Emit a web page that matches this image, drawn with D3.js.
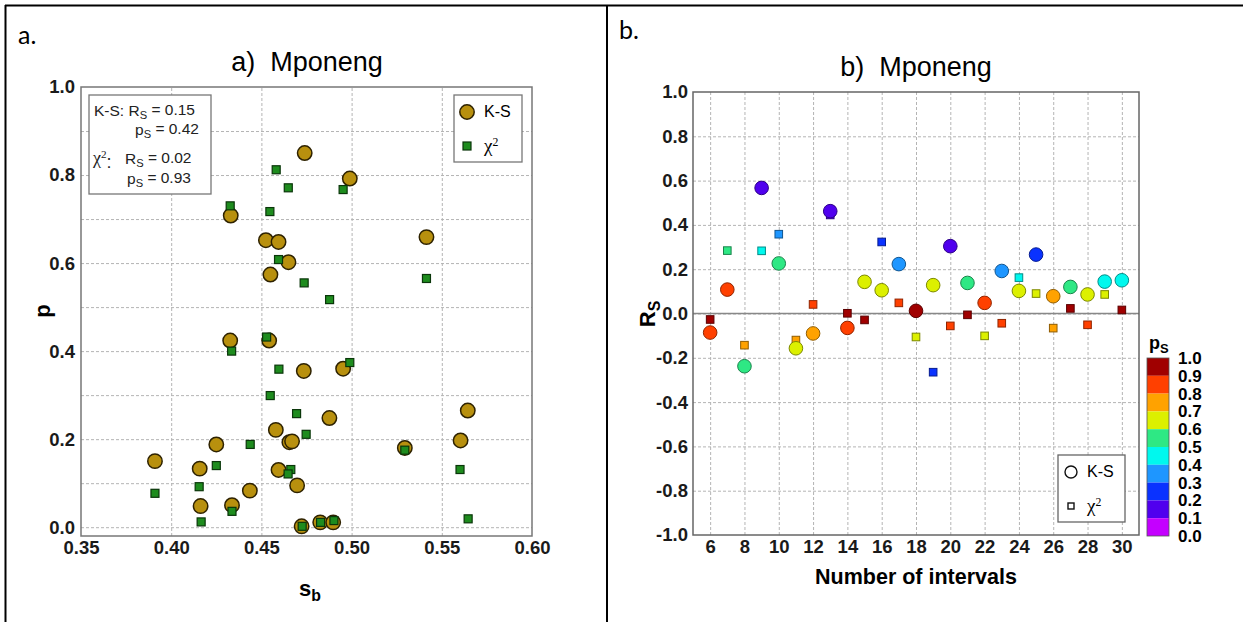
<!DOCTYPE html>
<html>
<head>
<meta charset="utf-8">
<script src="https://cdn.jsdelivr.net/npm/d3@7"></script>
<style>
body { margin: 0; background: #fff; }
svg { display: block; font-family: "Liberation Sans", Arial, sans-serif; }
.grid line { stroke: #b4b4b4; stroke-dasharray: 3,2; stroke-width: 1; }
.grid path { display: none; }
.ax path, .ax line { display: none; }
</style>
</head>
<body>
<svg id="chart" width="1243" height="622"></svg>
<script>
// ---- panel a: p versus s_b ----
var ksSb = [0.474, 0.433, 0.4525, 0.4595, 0.465, 0.455, 0.499, 0.5415, 0.4327, 0.4543,
  0.4735, 0.4953, 0.4877, 0.458, 0.4655, 0.467, 0.425, 0.391, 0.4158, 0.4595,
  0.4698, 0.4436, 0.4163, 0.4337, 0.4723, 0.4826, 0.4898, 0.5644, 0.5604, 0.5295]
var ksP = [0.850, 0.708, 0.652, 0.648, 0.602, 0.574, 0.792, 0.659, 0.424, 0.424,
  0.355, 0.360, 0.248, 0.221, 0.193, 0.195, 0.188, 0.150, 0.133, 0.130,
  0.095, 0.083, 0.048, 0.050, 0.002, 0.011, 0.011, 0.265, 0.197, 0.180]

var chiSb = [0.4582, 0.4649, 0.4953, 0.4327, 0.4547, 0.4595, 0.4737, 0.4878, 0.5415, 0.4529,
  0.4335, 0.4597, 0.4549, 0.4695, 0.4748, 0.4438, 0.425, 0.4663, 0.4648, 0.4155,
  0.391, 0.4337, 0.4166, 0.4726, 0.4828, 0.4902, 0.499, 0.5295, 0.5601, 0.5646]
var chiP = [0.812, 0.771, 0.767, 0.730, 0.717, 0.608, 0.555, 0.517, 0.565, 0.432,
  0.400, 0.359, 0.299, 0.258, 0.211, 0.188, 0.140, 0.131, 0.121, 0.092,
  0.077, 0.036, 0.012, 0.002, 0.011, 0.015, 0.374, 0.175, 0.131, 0.019]

var aXTicks = [0.35, 0.40, 0.45, 0.50, 0.55, 0.60]
var aYTicks = [0.0, 0.2, 0.4, 0.6, 0.8, 1.0]
var aYGrid = [0.0, 0.1, 0.2, 0.3, 0.4, 0.5, 0.6, 0.7, 0.8, 0.9]

// ---- panel b: R_S versus number of intervals ----
var intervals = [6, 7, 8, 9, 10, 11, 12, 13, 14, 15, 16, 17, 18, 19, 20, 21, 22, 23, 24, 25, 26, 27, 28, 29, 30]
var ksRs = [-0.086, 0.108, -0.238, 0.567, 0.226, -0.157, -0.090, 0.462, -0.065, 0.143,
  0.105, 0.223, 0.012, 0.128, 0.304, 0.138, 0.048, 0.192, 0.102, 0.266,
  0.078, 0.120, 0.086, 0.144, 0.150]
var ksPs = [0.85, 0.82, 0.55, 0.15, 0.52, 0.65, 0.75, 0.12, 0.83, 0.62,
  0.66, 0.35, 0.96, 0.64, 0.19, 0.55, 0.86, 0.38, 0.65, 0.25,
  0.73, 0.57, 0.69, 0.45, 0.44]
var chiRs = [-0.027, 0.284, -0.143, 0.283, 0.358, -0.120, 0.041, 0.445, 0.001, -0.029,
  0.323, 0.048, -0.106, -0.265, -0.056, -0.006, -0.101, -0.044, 0.162, 0.090,
  -0.066, 0.023, -0.051, 0.086, 0.016]
var chiPs = [0.92, 0.54, 0.72, 0.43, 0.33, 0.74, 0.88, 0.15, 0.99, 0.93,
  0.28, 0.87, 0.68, 0.27, 0.84, 0.98, 0.69, 0.85, 0.46, 0.67,
  0.76, 0.92, 0.82, 0.68, 0.95]

var bXTicks = [6, 8, 10, 12, 14, 16, 18, 20, 22, 24, 26, 28, 30]
var bYTicks = [-1.0, -0.8, -0.6, -0.4, -0.2, 0.0, 0.2, 0.4, 0.6, 0.8, 1.0]
var psLabels = ["1.0", "0.9", "0.8", "0.7", "0.6", "0.5", "0.4", "0.3", "0.2", "0.1", "0.0"]
var psBreaks = [0.1, 0.2, 0.3, 0.4, 0.5, 0.6, 0.7, 0.8, 0.9]
var psColors = ["#c400ff", "#5000ee", "#0a32ff", "#1e96ff", "#00f8ee",
  "#2ee884", "#dcf000", "#ffa200", "#ff4000", "#a00000"]

var svg = d3.select("#chart")
var fmt1 = function(d) { return d3.format(".1f")(d).replace("\u2212", "-") }

// page frame (table cells)
svg.append("line").attr("x1", 5).attr("x2", 1243).attr("y1", 5.5).attr("y2", 5.5)
  .attr("stroke", "#000").attr("stroke-width", 2)
svg.append("line").attr("x1", 5.5).attr("x2", 5.5).attr("y1", 5).attr("y2", 622)
  .attr("stroke", "#000").attr("stroke-width", 2)
svg.append("line").attr("x1", 607).attr("x2", 607).attr("y1", 5).attr("y2", 622)
  .attr("stroke", "#000").attr("stroke-width", 2)

svg.append("text").attr("x", 18).attr("y", 44).text("a.")
  .style("font-family", "Lato, 'Open Sans', sans-serif").style("font-size", "25px")
svg.append("text").attr("x", 619).attr("y", 39).text("b.")
  .style("font-family", "Lato, 'Open Sans', sans-serif").style("font-size", "25px")

// helper: text with a subscript / superscript piece
function subText(sel, parts) {
  parts.forEach(function(p) {
    var t = sel.append("tspan").text(p.t)
    if (p.sub) t.attr("font-size", "0.72em").attr("dy", "0.3em")
    if (p.sup) t.attr("font-size", "0.62em").attr("dy", "-0.55em")
    if (p.serif) t.style("font-family", "'Liberation Serif', 'DejaVu Serif', serif")
    if (p.back) t.attr("dy", p.back)
  })
  return sel
}

function styleTicks(g) {
  g.selectAll("text")
    .style("font-family", "'Liberation Sans', Arial, sans-serif")
    .style("font-weight", "bold")
    .style("font-size", "18.5px")
    .style("fill", "#1a1a1a")
}

// ================= panel a =================
var ax = d3.scaleLinear().domain([0.35, 0.60]).range([81, 532])
var ay = d3.scaleLinear().domain([-0.02, 1.0]).range([536, 87])
var ga = svg.append("g")

ga.append("g").attr("class", "grid")
  .attr("transform", "translate(0,536)")
  .call(d3.axisBottom(ax).tickValues(aXTicks.slice(1, 5)).tickSize(-449).tickFormat(""))
ga.append("g").attr("class", "grid")
  .attr("transform", "translate(81,0)")
  .call(d3.axisLeft(ay).tickValues(aYGrid).tickSize(-451).tickFormat(""))

ga.append("rect").attr("x", 81).attr("y", 87).attr("width", 451).attr("height", 449)
  .attr("fill", "none").attr("stroke", "#777").attr("stroke-width", 1.5)

ga.append("g").attr("class", "ax").attr("transform", "translate(81,0)")
  .call(d3.axisLeft(ay).tickValues(aYTicks).tickSize(0).tickPadding(6).tickFormat(fmt1))
  .call(styleTicks)
ga.append("g").attr("class", "ax").attr("transform", "translate(0,536)")
  .call(d3.axisBottom(ax).tickValues(aXTicks).tickSize(0).tickPadding(5).tickFormat(d3.format(".2f")))
  .call(styleTicks)

ga.selectAll(".ks").data(ksSb).enter().append("circle")
  .attr("class", "ks")
  .attr("cx", function(d) { return ax(d) })
  .attr("cy", function(d, i) { return ay(ksP[i]) })
  .attr("r", 7.2)
  .attr("fill", "#b8900e").attr("stroke", "#2e2200").attr("stroke-width", 1.5)

ga.selectAll(".chi").data(chiSb).enter().append("rect")
  .attr("class", "chi")
  .attr("x", function(d) { return ax(d) - 4 })
  .attr("y", function(d, i) { return ay(chiP[i]) - 4 })
  .attr("width", 8).attr("height", 8)
  .attr("fill", "#1e8c1e").attr("stroke", "#0a360a").attr("stroke-width", 1.2)

ga.append("text").attr("x", 307).attr("y", 71).attr("text-anchor", "middle")
  .style("font-size", "27px").style("white-space", "pre").text("a)  Mponeng")
ga.append("text").attr("transform", "translate(50,311) rotate(-90)").attr("text-anchor", "middle")
  .style("font-size", "22px").style("font-weight", "bold").text("p")
subText(ga.append("text").attr("x", 299).attr("y", 596)
  .style("font-size", "22px").style("font-weight", "bold"), [{t: "s"}, {t: "b", sub: true}])

// statistics box
ga.append("rect").attr("x", 89).attr("y", 95).attr("width", 122).attr("height", 99)
  .attr("fill", "#fff").attr("stroke", "#777").attr("stroke-width", 1.3)
var stat = ga.append("g").style("font-size", "15.5px").attr("fill", "#222")
subText(stat.append("text").attr("x", 94).attr("y", 116),
  [{t: "K-S: R"}, {t: "S", sub: true}, {t: " = 0.15", back: "-0.3em"}])
subText(stat.append("text").attr("x", 135).attr("y", 135),
  [{t: "p"}, {t: "S", sub: true}, {t: " = 0.42", back: "-0.3em"}])
subText(stat.append("text").attr("x", 93).attr("y", 164).style("font-size", "18px"),
  [{t: "\u03c7", serif: true}, {t: "2", sup: true, serif: true}, {t: ":", back: "0.55em"}])
subText(stat.append("text").attr("x", 125).attr("y", 164),
  [{t: "R"}, {t: "S", sub: true}, {t: " = 0.02", back: "-0.3em"}])
subText(stat.append("text").attr("x", 127).attr("y", 184),
  [{t: "p"}, {t: "S", sub: true}, {t: " = 0.93", back: "-0.3em"}])

// legend a
ga.append("rect").attr("x", 454).attr("y", 95).attr("width", 68).attr("height", 67)
  .attr("fill", "#fff").attr("stroke", "#777").attr("stroke-width", 1.3)
ga.append("circle").attr("cx", 467).attr("cy", 112).attr("r", 7.2)
  .attr("fill", "#b8900e").attr("stroke", "#2e2200").attr("stroke-width", 1.5)
ga.append("rect").attr("x", 463).attr("y", 142).attr("width", 8).attr("height", 8)
  .attr("fill", "#1e8c1e").attr("stroke", "#0a360a").attr("stroke-width", 1.2)
ga.append("text").attr("x", 484).attr("y", 117).style("font-size", "16px").text("K-S")
subText(ga.append("text").attr("x", 484).attr("y", 152).style("font-size", "19px"),
  [{t: "\u03c7", serif: true}, {t: "2", sup: true, serif: true}])

// ================= panel b =================
var bx = d3.scaleLinear().domain([5, 31]).range([693, 1139])
var by = d3.scaleLinear().domain([-1, 1]).range([535, 92])
var color = d3.scaleThreshold().domain(psBreaks).range(psColors)
var gb = svg.append("g")

gb.append("g").attr("class", "grid")
  .attr("transform", "translate(0,535)")
  .call(d3.axisBottom(bx).tickValues(bXTicks).tickSize(-443).tickFormat(""))
gb.append("g").attr("class", "grid")
  .attr("transform", "translate(693,0)")
  .call(d3.axisLeft(by).tickValues(bYTicks.slice(1, 10)).tickSize(-446).tickFormat(""))

gb.append("line").attr("x1", 693).attr("x2", 1139).attr("y1", by(0)).attr("y2", by(0))
  .attr("stroke", "#888").attr("stroke-width", 1.5)
gb.append("rect").attr("x", 693).attr("y", 92).attr("width", 446).attr("height", 443)
  .attr("fill", "none").attr("stroke", "#666").attr("stroke-width", 1.5)

gb.append("g").attr("class", "ax").attr("transform", "translate(693,0)")
  .call(d3.axisLeft(by).tickValues(bYTicks).tickSize(0).tickPadding(5).tickFormat(fmt1))
  .call(styleTicks)
gb.append("g").attr("class", "ax").attr("transform", "translate(0,535)")
  .call(d3.axisBottom(bx).tickValues(bXTicks).tickSize(0).tickPadding(5))
  .call(styleTicks)

gb.selectAll(".chib").data(intervals).enter().append("rect")
  .attr("class", "chib")
  .attr("x", function(d) { return bx(d) - 3.8 })
  .attr("y", function(d, i) { return by(chiRs[i]) - 3.8 })
  .attr("width", 7.6).attr("height", 7.6)
  .attr("fill", function(d, i) { return color(chiPs[i]) })
  .attr("stroke", function(d, i) { return d3.color(color(chiPs[i])).darker(1.6) })
  .attr("stroke-width", 1)

gb.selectAll(".ksb").data(intervals).enter().append("circle")
  .attr("class", "ksb")
  .attr("cx", function(d) { return bx(d) })
  .attr("cy", function(d, i) { return by(ksRs[i]) })
  .attr("r", 6.8)
  .attr("fill", function(d, i) { return color(ksPs[i]) })
  .attr("stroke", function(d, i) { return d3.color(color(ksPs[i])).darker(1.6) })
  .attr("stroke-width", 1)

gb.append("text").attr("x", 916).attr("y", 76).attr("text-anchor", "middle")
  .style("font-size", "27px").style("white-space", "pre").text("b)  Mponeng")
subText(gb.append("text").attr("transform", "translate(655,314) rotate(-90)").attr("text-anchor", "middle")
  .style("font-size", "22px").style("font-weight", "bold"), [{t: "R"}, {t: "S", sub: true}])
gb.append("text").attr("x", 916).attr("y", 584).attr("text-anchor", "middle")
  .style("font-size", "21.5px").style("font-weight", "bold").text("Number of intervals")

// legend b
gb.append("rect").attr("x", 1058).attr("y", 455).attr("width", 67).attr("height", 67)
  .attr("fill", "#fff").attr("stroke", "#666").attr("stroke-width", 1.3)
gb.append("circle").attr("cx", 1071).attr("cy", 472).attr("r", 6)
  .attr("fill", "none").attr("stroke", "#111").attr("stroke-width", 1.4)
gb.append("rect").attr("x", 1068).attr("y", 503).attr("width", 6).attr("height", 6)
  .attr("fill", "none").attr("stroke", "#111").attr("stroke-width", 1.4)
gb.append("text").attr("x", 1087).attr("y", 477).style("font-size", "16px").text("K-S")
subText(gb.append("text").attr("x", 1087).attr("y", 512).style("font-size", "19px"),
  [{t: "\u03c7", serif: true}, {t: "2", sup: true, serif: true}])

// colour bar
var cb = d3.scaleLinear().domain([1, 0]).range([358, 536])
var bands = psColors.slice().reverse()
gb.selectAll(".band").data(bands).enter().append("rect")
  .attr("class", "band")
  .attr("x", 1147).attr("width", 22)
  .attr("y", function(d, i) { return cb(1 - i * 0.1) })
  .attr("height", function(d, i) { return cb(0.9 - i * 0.1) - cb(1 - i * 0.1) })
  .attr("fill", function(d) { return d })
gb.append("rect").attr("x", 1147).attr("y", 358).attr("width", 22).attr("height", 178)
  .attr("fill", "none").attr("stroke", "#555").attr("stroke-width", 0.8)
gb.selectAll(".cbl").data(psLabels).enter().append("text")
  .attr("class", "cbl")
  .attr("x", 1178)
  .attr("y", function(d) { return cb(+d) + 6 })
  .style("font-size", "17px").style("font-weight", "bold")
  .text(function(d) { return d })
subText(gb.append("text").attr("x", 1149).attr("y", 349)
  .style("font-size", "18px").style("font-weight", "bold"), [{t: "p"}, {t: "S", sub: true}])
</script>
</body>
</html>
